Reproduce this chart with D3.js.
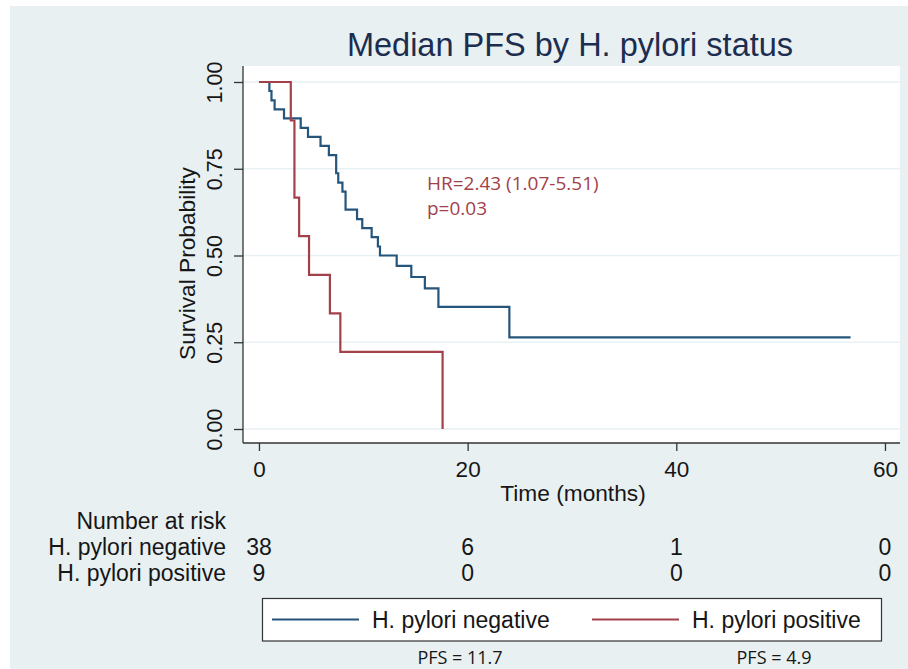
<!DOCTYPE html>
<html>
<head>
<meta charset="utf-8">
<script src="https://cdn.jsdelivr.net/npm/d3@7/dist/d3.min.js"></script>
<style>
  body { margin: 0; background: #fff; }
  svg { display: block; font-family: 'Liberation Sans', Arial, Helvetica, sans-serif; }
</style>
</head>
<body>
<div id="chart"></div>
<script>
/* globals d3 */

let negTimes = [0, 1.0, 1.2, 1.5, 2.4, 4.0, 4.7, 5.9, 6.7, 7.4, 7.6, 8.0, 8.3, 9.4, 9.9, 10.8, 11.4, 11.6, 13.2, 14.6, 15.9, 17.2, 24.0, 56.7]
let negSurv = [1, 0.974, 0.947, 0.921, 0.895, 0.868, 0.842, 0.816, 0.789, 0.737, 0.710, 0.684, 0.632, 0.605, 0.579, 0.553, 0.526, 0.500, 0.470, 0.438, 0.405, 0.352, 0.264, 0.264]
let posTimes = [0, 3.05, 3.4, 3.85, 4.8, 6.8, 7.8, 17.6]
let posSurv = [1, 0.889, 0.667, 0.556, 0.444, 0.333, 0.222, 0]

let groups = ['H. pylori negative', 'H. pylori positive']
let colors = ['#26557c', '#a3414a']
let riskTimes = [0, 20, 40, 60]
let riskNeg = [38, 6, 1, 0]
let riskPos = [9, 0, 0, 0]
let medians = ['PFS = 11.7', 'PFS = 4.9']
let xTicks = [0, 20, 40, 60]
let yTicks = [0, 0.25, 0.5, 0.75, 1]
let hrLines = ['HR=2.43 (1.07-5.51)', 'p=0.03']

let width = 908
let height = 669
let plot = { left: 243, right: 900, top: 66, bottom: 443 }
let ink = '#161616'

let svg = d3.select('#chart').append('svg').attr('width', width).attr('height', height)

svg.append('rect').attr('x', 10).attr('y', 6).attr('width', width - 10).attr('height', height - 6)
    .attr('fill', '#e8f0f2')

let x = d3.scaleLinear().domain([-1.53, 61.44]).range([plot.left, plot.right])
let y = d3.scaleLinear().domain([0, 1]).range([429, 82])

svg.append('rect')
    .attr('x', plot.left).attr('y', plot.top)
    .attr('width', plot.right - plot.left).attr('height', plot.bottom - plot.top)
    .attr('fill', '#fff')

// gridlines
svg.append('g').selectAll('line')
    .data(yTicks)
    .enter().append('line')
      .attr('x1', plot.left).attr('x2', plot.right)
      .attr('y1', (d) => y(d)).attr('y2', (d) => y(d))
      .attr('stroke', '#e8f1f3').attr('stroke-width', 1.5)

// curves
let line = d3.line()
    .x((d) => x(d[0]))
    .y((d) => y(d[1]))
    .curve(d3.curveStepAfter)

let curves = [d3.zip(negTimes, negSurv), d3.zip(posTimes, posSurv)]

svg.append('g').selectAll('path')
    .data(curves)
    .enter().append('path')
      .attr('d', line)
      .attr('fill', 'none')
      .attr('stroke', (d, i) => colors[i])
      .attr('stroke-width', 2.2)

// axes
let xAxis = svg.append('g')
    .attr('transform', 'translate(0,' + plot.bottom + ')')
    .call(d3.axisBottom(x).tickValues(xTicks).tickSize(8).tickPadding(10).tickSizeOuter(0))
xAxis.select('.domain').attr('stroke', '#333').attr('stroke-width', 1.3)
    .attr('d', 'M' + plot.left + ',0H' + plot.right)
xAxis.selectAll('.tick line').attr('stroke', '#333').attr('stroke-width', 1.3)
xAxis.selectAll('.tick text')
    .attr('fill', ink)
    .style('font-size', '22.5px')
    .style('font-family', "'Liberation Sans', Arial, sans-serif")

let yAxis = svg.append('g')
    .attr('transform', 'translate(' + plot.left + ',0)')
    .call(d3.axisLeft(y).tickValues(yTicks).tickFormat(d3.format('.2f')).tickSize(9).tickSizeOuter(0))
yAxis.select('.domain').attr('stroke', '#333').attr('stroke-width', 1.3)
    .attr('d', 'M0,' + plot.top + 'V' + plot.bottom)
yAxis.selectAll('.tick line').attr('stroke', '#333').attr('stroke-width', 1.3)
yAxis.selectAll('.tick text')
    .attr('fill', ink)
    .style('font-size', '21.5px')
    .style('font-family', "'Liberation Sans', Arial, sans-serif")
    .attr('x', null).attr('dy', null)
    .attr('text-anchor', 'middle')
    .attr('transform', 'translate(-21,0) rotate(-90)')

// titles
svg.append('text')
    .attr('x', 570).attr('y', 56)
    .attr('text-anchor', 'middle')
    .style('font-size', '32.5px')
    .attr('fill', '#1c2d50')
    .text('Median PFS by H. pylori status')

svg.append('text')
    .attr('transform', 'translate(195,' + ((plot.top + plot.bottom) / 2 + 9) + ') rotate(-90)')
    .attr('text-anchor', 'middle')
    .style('font-size', '22.7px')
    .attr('fill', ink)
    .text('Survival Probability')

svg.append('text')
    .attr('x', 573).attr('y', 501)
    .attr('text-anchor', 'middle')
    .style('font-size', '22.7px')
    .attr('fill', ink)
    .text('Time (months)')

// hazard ratio annotation
svg.append('g').selectAll('text')
    .data(hrLines)
    .enter().append('text')
      .attr('x', 427)
      .attr('y', (d, i) => 190 + i * 25)
      .style('font-family', "'Open Sans', sans-serif")
      .style('font-size', '19px')
      .attr('fill', colors[1])
      .text((d) => d)

// number at risk table
let risk = svg.append('g').style('font-size', '23px').attr('fill', ink)
let rowY = [529, 555, 581]
risk.append('text').attr('x', 226).attr('y', rowY[0]).attr('text-anchor', 'end').text('Number at risk')
groups.forEach(function (g, i) {
  risk.append('text').attr('x', 226).attr('y', rowY[i + 1]).attr('text-anchor', 'end').text(g)
})
;[riskNeg, riskPos].forEach(function (row, i) {
  risk.selectAll(null)
      .data(row)
      .enter().append('text')
        .attr('x', (d, j) => x(riskTimes[j]))
        .attr('y', rowY[i + 1])
        .attr('text-anchor', 'middle')
        .text((d) => d)
})

// legend
let legend = svg.append('g')
legend.append('rect')
    .attr('x', 262.5).attr('y', 598.5).attr('width', 619).attr('height', 42.5)
    .attr('fill', '#fff').attr('stroke', '#333').attr('stroke-width', 1.2)

let legX = [272, 592]
groups.forEach(function (g, i) {
  legend.append('line')
      .attr('x1', legX[i]).attr('x2', legX[i] + 87)
      .attr('y1', 619.5).attr('y2', 619.5)
      .attr('stroke', colors[i]).attr('stroke-width', 2.2)
  legend.append('text')
      .attr('x', legX[i] + 100).attr('y', 628)
      .style('font-size', '23px').attr('fill', ink)
      .text(g)
})

let medX = [460, 774]
svg.append('g').selectAll('text')
    .data(medians)
    .enter().append('text')
      .attr('x', (d, i) => medX[i])
      .attr('y', 664)
      .attr('text-anchor', 'middle')
      .style('font-family', "'Open Sans', sans-serif")
      .style('font-size', '18px')
      .attr('fill', ink)
      .text((d) => d)
</script>
</body>
</html>
